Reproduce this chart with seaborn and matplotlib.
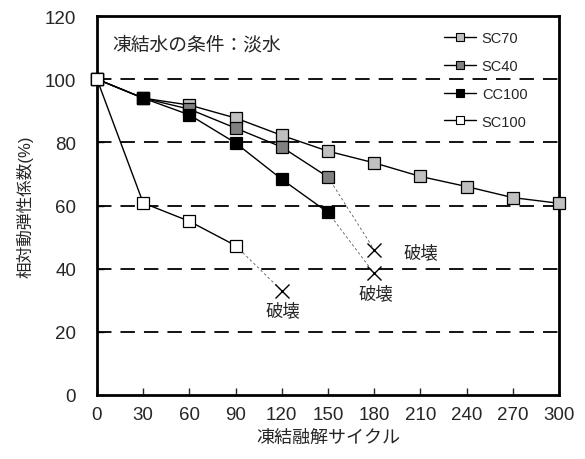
import matplotlib
matplotlib.use("Agg")
import matplotlib.pyplot as plt
from matplotlib.lines import Line2D
import seaborn as sns
import pandas as pd

cycles_sc70 = [0, 30, 60, 90, 120, 150, 180, 210, 240, 270, 300]
sc70 = [100, 94, 91.8, 87.7, 82.2, 77.2, 73.5, 69.2, 66.0, 62.5, 60.7]
cycles_sc40 = [0, 30, 60, 90, 120, 150]
sc40 = [100, 94, 90.5, 84.5, 78.5, 69.0]
cycles_cc100 = [0, 30, 60, 90, 120, 150]
cc100 = [100, 94, 88.7, 79.8, 68.3, 57.8]
cycles_sc100 = [0, 30, 60, 90]
sc100 = [100, 60.8, 55.0, 47.3]

# failure points (x, y)
fail_sc40 = (180, 46)
fail_cc100 = (180, 38.5)
fail_sc100 = (120, 33)

names = ["SC70", "SC40", "CC100", "SC100"]
facecolors = ["#c0c0c0", "#808080", "#000000", "#ffffff"]
xticks = [0, 30, 60, 90, 120, 150, 180, 210, 240, 270, 300]
yticks = [0, 20, 40, 60, 80, 100, 120]

sns.set_style("ticks")
plt.rcParams['font.family'] = ['Liberation Sans', 'Noto Sans CJK JP', 'DejaVu Sans']

fig = plt.figure(figsize=(5.85, 4.6), dpi=100)
ax = fig.add_axes([97/585, 1-396/460, (559-97)/585, (396-17)/460])

for yv in [20, 40, 60, 80, 100]:
    ax.axhline(yv, color="black", lw=1.3, ls=(0, (8, 5)), zorder=1)

series = [(cycles_sc70, sc70), (cycles_sc40, sc40), (cycles_cc100, cc100), (cycles_sc100, sc100)]
for (xs, ys), name, fc in zip(series, names, facecolors):
    df = pd.DataFrame({"x": xs, "y": ys})
    sns.lineplot(data=df, x="x", y="y", ax=ax, color="black", lw=1.0,
                 marker="s", markersize=8.5, markerfacecolor=fc,
                 markeredgecolor="black", markeredgewidth=0.9, zorder=3,
                 clip_on=False)

# dotted lines to failure
for (xs, ys), fp in [((cycles_sc40, sc40), fail_sc40), ((cycles_cc100, cc100), fail_cc100),
                     ((cycles_sc100, sc100), fail_sc100)]:
    df = pd.DataFrame({"x": [xs[-1], fp[0]], "y": [ys[-1], fp[1]]})
    sns.lineplot(data=df, x="x", y="y", ax=ax, color="#555555", lw=0.6,
                 ls=(0, (3, 3)), zorder=2)
    ax.plot([fp[0]], [fp[1]], marker="x", color="black", markersize=10,
            markeredgewidth=1.0, ls="none", zorder=4)

fs_jp = 12.5
ax.text(fail_sc100[0] + 1, fail_sc100[1] - 3.5, "破壊", ha="center", va="top", fontsize=fs_jp)
ax.text(fail_cc100[0] + 1, fail_cc100[1] - 3.5, "破壊", ha="center", va="top", fontsize=fs_jp)
ax.text(fail_sc40[0] + 19, fail_sc40[1] - 0.5, "破壊", ha="left", va="center", fontsize=fs_jp)

ax.text(10, 111, "凍結水の条件：淡水", ha="left", va="center", fontsize=13.5)

ax.set_xlim(0, 300)
ax.set_ylim(0, 120)
ax.set_xticks(xticks)
ax.set_yticks(yticks)
ax.tick_params(direction="in", length=5, width=1, labelsize=13.5)
ax.tick_params(axis="x", pad=8)
ax.tick_params(axis="y", pad=15)
for s in ax.spines.values():
    s.set_linewidth(2)
    s.set_color("black")
ax.set_xlabel("凍結融解サイクル", fontsize=13, labelpad=4)
ax.set_ylabel("相対動弾性係数(%)", fontsize=12, labelpad=8)

handles = [Line2D([0], [0], color="black", lw=1, marker="s", markersize=6,
                  markerfacecolor=fc, markeredgecolor="black", markeredgewidth=0.8)
           for fc in facecolors]
leg = ax.legend(handles, names, loc="upper right", bbox_to_anchor=(0.96, 0.995),
                frameon=False, fontsize=10.5, handlelength=2.2, labelspacing=0.95,
                handletextpad=0.4)

fig.savefig("out.png", dpi=100)
